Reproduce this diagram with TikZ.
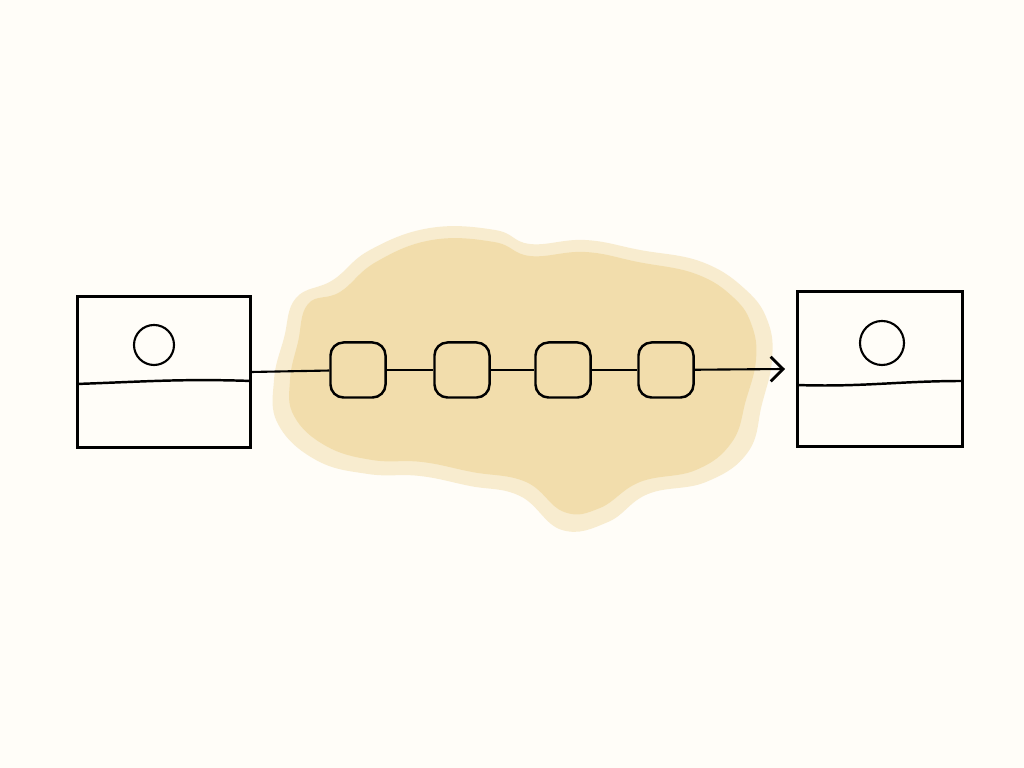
\documentclass[tikz,border=0pt]{standalone}
\usepackage{tikz}
\usetikzlibrary{arrows.meta, shapes, positioning}
\definecolor{paper}{RGB}{255,253,248}
\definecolor{sand}{RGB}{240,216,158}
\tikzstyle{frame} = [draw=black, line width=0.85pt, minimum width=1.7cm, minimum height=1.5cm, inner sep=0]
\tikzstyle{lamp} = [circle, draw=black, line width=0.6pt, minimum size=0.42cm, inner sep=0]
\tikzstyle{packet} = [rounded corners=0.13cm, draw=black, line width=0.7pt, minimum size=0.55cm, inner sep=0]
\tikzstyle{wire} = [line width=0.6pt]

\begin{document}
\begin{tikzpicture}[x=0.01cm, y=-0.01cm]
	\fill[paper] (0,0) rectangle (1024,768);
	\useasboundingbox (0,0) rectangle (1024,768);

	% the cloud, a pale rim and a fuller core
	\fill[sand, opacity=0.45] plot[smooth cycle, tension=0.7] coordinates {
		(296,298) (333,280) (370,250) (430,228) (495,230) (530,244) (585,240)
		(640,250) (702,262) (746,290) (768,322) (772,360) (762,404) (748,452)
		(706,482) (648,494) (608,522) (562,530) (520,496) (470,486) (420,476)
		(368,474) (316,460) (278,424) (274,380) (284,338)};
	\fill[sand, opacity=0.7] plot[smooth cycle, tension=0.7] coordinates {
		(308,304) (340,292) (376,262) (432,240) (494,242) (530,256) (585,252)
		(638,262) (696,274) (734,298) (752,326) (756,360) (746,400) (732,442)
		(696,470) (640,482) (600,508) (564,512) (526,482) (472,472) (422,462)
		(372,460) (326,446) (294,416) (290,380) (298,342)};

	% sender
	\node (Src) [frame, minimum width=1.72cm] at (164, 372) {};
	\node (SrcLamp) [lamp, minimum size=0.4cm] at (154, 345) {};
	\draw[line width=0.7pt] (Src.west |- 0,384) to[out=2, in=178] (Src.east |- 0,381);

	% receiver
	\node (Dst) [frame, minimum width=1.64cm, minimum height=1.54cm] at (880, 369) {};
	\node (DstLamp) [lamp, minimum size=0.44cm] at (882, 343) {};
	\draw[line width=0.7pt] (Dst.west |- 0,385) to[out=-2, in=180] (Dst.east |- 0,381);

	% packets
	\foreach \x [count=\i] in {358, 462, 563, 666}
		\node (P\i) [packet] at (\x, 370) {};

	\draw[wire] (Src.east |- 0,372) -- (P1);
	\draw[wire] (P1) -- (P2);
	\draw[wire] (P2) -- (P3);
	\draw[wire] (P3) -- (P4);
	\coordinate (DstIn) at (785, 369);
	\draw[wire, -{Straight Barb[length=3.5pt, width=7pt, line width=0.8pt]}] (P4) -- (DstIn);
\end{tikzpicture}
\end{document}
